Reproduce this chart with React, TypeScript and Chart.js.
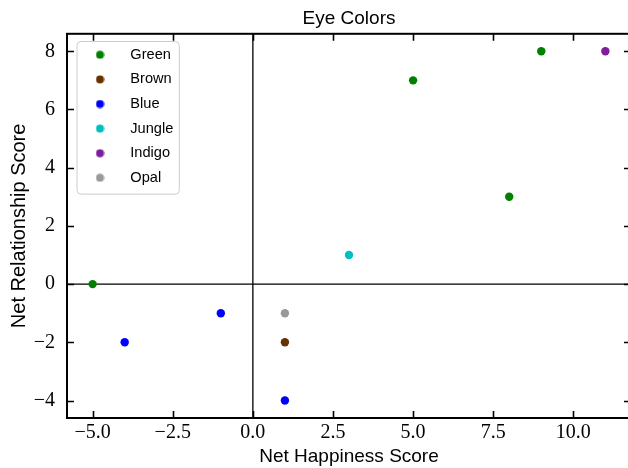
import React, { useEffect, useRef } from "react";
import { Chart, registerables } from "chart.js";

Chart.register(...registerables);

const categories = ["Green", "Brown", "Blue", "Jungle", "Indigo", "Opal"];
const colors = ["#008000", "#663300", "#0000ff", "#00bfbf", "#7e1e9c", "#999999"];
const greenX = [-5, 5, 8, 9];
const greenY = [0, 7, 3, 8];
const brownX = [1];
const brownY = [-2];
const blueX = [-4, -1, 1];
const blueY = [-2, -1, -4];
const jungleX = [3];
const jungleY = [1];
const indigoX = [11];
const indigoY = [8];
const opalX = [1];
const opalY = [-1];
const seriesX = [greenX, brownX, blueX, jungleX, indigoX, opalX];
const seriesY = [greenY, brownY, blueY, jungleY, indigoY, opalY];
const xTicks = [-5, -2.5, 0, 2.5, 5, 7.5, 10];
const yTicks = [-4, -2, 0, 2, 4, 6, 8];
const xRange = [-5.8, 11.8];
const yRange = [-4.6, 8.6];

const SERIF = "'Liberation Serif', 'DejaVu Serif', serif";
const SANS = "'Liberation Sans', 'DejaVu Sans', sans-serif";

const fmtX = (v: number) => v.toFixed(1).replace("-", "\u2212");
const fmtY = (v: number) => String(v).replace("-", "\u2212");

function dotImage(color: string) {
  const c = document.createElement("canvas");
  c.width = 9;
  c.height = 9;
  const g = c.getContext("2d")!;
  g.fillStyle = color;
  g.beginPath();
  g.arc(4.5, 4.5, 4, 0, Math.PI * 2);
  g.fill();
  return c;
}

const decoPlugin = {
  id: "deco",
  beforeDraw(chart: any) {
    const lg = chart.legend;
    const hb = lg && lg.legendHitBoxes;
    if (!hb || !hb.length) return;
    const ctx = chart.ctx;
    let right = 0;
    hb.forEach((h: any) => {
      right = Math.max(right, h.left + h.width);
    });
    const left = hb[0].left;
    const top = hb[0].top - 6;
    const last = hb[hb.length - 1];
    const bottom = last.top + last.height + 9;
    const r = 4;
    const w = right + 6 - left;
    const h = bottom - top;
    ctx.save();
    ctx.beginPath();
    ctx.moveTo(left + r, top);
    ctx.lineTo(left + w - r, top);
    ctx.quadraticCurveTo(left + w, top, left + w, top + r);
    ctx.lineTo(left + w, top + h - r);
    ctx.quadraticCurveTo(left + w, top + h, left + w - r, top + h);
    ctx.lineTo(left + r, top + h);
    ctx.quadraticCurveTo(left, top + h, left, top + h - r);
    ctx.lineTo(left, top + r);
    ctx.quadraticCurveTo(left, top, left + r, top);
    ctx.closePath();
    ctx.fillStyle = "rgba(255,255,255,0.8)";
    ctx.fill();
    ctx.strokeStyle = "#cccccc";
    ctx.lineWidth = 1;
    ctx.stroke();
    ctx.restore();
  },
  beforeDatasetsDraw(chart: any) {
    const { ctx, chartArea: a, scales } = chart;
    const x0 = scales.x.getPixelForValue(0);
    const y0 = scales.y.getPixelForValue(0);
    ctx.save();
    ctx.strokeStyle = "#000";
    ctx.lineWidth = 1.3;
    ctx.beginPath();
    ctx.moveTo(x0, a.top);
    ctx.lineTo(x0, a.bottom);
    ctx.moveTo(a.left, y0);
    ctx.lineTo(a.right, y0);
    ctx.stroke();
    ctx.restore();
  },
  afterDatasetsDraw(chart: any) {
    const { ctx, chartArea: a, scales } = chart;
    ctx.save();
    ctx.strokeStyle = "#000";
    ctx.lineWidth = 1.6;
    const L = 7;
    ctx.beginPath();
    xTicks.forEach((v) => {
      const px = Math.round(scales.x.getPixelForValue(v)) + 0.5;
      ctx.moveTo(px, a.bottom);
      ctx.lineTo(px, a.bottom - L);
      ctx.moveTo(px, a.top);
      ctx.lineTo(px, a.top + L);
    });
    yTicks.forEach((v) => {
      const py = Math.round(scales.y.getPixelForValue(v)) + 0.5;
      ctx.moveTo(a.left, py);
      ctx.lineTo(a.left + L, py);
      ctx.moveTo(a.right, py);
      ctx.lineTo(a.right - L, py);
    });
    ctx.stroke();
    ctx.lineWidth = 2;
    ctx.strokeRect(a.left, a.top, a.right - a.left, a.bottom - a.top);
    ctx.restore();
  },
};

export default function App() {
  const ref = useRef<HTMLCanvasElement | null>(null);

  useEffect(() => {
    document.body.style.margin = "0";
    const canvas = ref.current;
    if (!canvas) return;
    const images = colors.map(dotImage);
    const datasets = categories.map((name, i) => ({
      label: name,
      data: seriesX[i].map((x, j) => ({ x, y: seriesY[i][j] })),
      backgroundColor: colors[i],
      borderColor: colors[i],
      borderWidth: 0,
      pointRadius: 4.2,
      pointHoverRadius: 4.2,
      pointStyle: "circle" as const,
    }));

    const chart = new Chart(canvas, {
      type: "scatter",
      data: { datasets },
      plugins: [decoPlugin],
      options: {
        responsive: false,
        animation: false,
        devicePixelRatio: 1,
        layout: { padding: { left: 0, right: 5, top: 0, bottom: 0 } },
        plugins: {
          tooltip: { enabled: false },
          title: {
            display: true,
            text: "Eye Colors",
            fullSize: false,
            color: "#000",
            font: { family: SANS, size: 19, weight: "normal", lineHeight: 1.2 },
            padding: { top: 7, bottom: 4 },
          },
          legend: {
            display: true,
            position: "chartArea" as any,
            align: "start",
            title: {
              display: true,
              text: " ",
              padding: 0,
              font: { size: 2, lineHeight: "37.5px" },
            },
            labels: {
              usePointStyle: true,
              pointStyleWidth: 46,
              boxHeight: 8,
              padding: 10,
              color: "#000",
              font: { family: SANS, size: 14.6 },
              generateLabels: (ch: any) =>
                ch.data.datasets.map((ds: any, i: number) => ({
                  text: ds.label,
                  fillStyle: colors[i],
                  strokeStyle: colors[i],
                  lineWidth: 0,
                  pointStyle: images[i],
                  hidden: false,
                  datasetIndex: i,
                  fontColor: "#000",
                })),
            },
          },
        },
        scales: {
          x: {
            type: "linear",
            min: xRange[0],
            max: xRange[1],
            grid: { display: false, drawTicks: false },
            border: { display: false },
            afterBuildTicks: (s: any) => {
              s.ticks = xTicks.map((v) => ({ value: v }));
            },
            afterFit: (s: any) => {
              s.height = 50;
            },
            ticks: {
              autoSkip: false,
              maxRotation: 0,
              padding: 3,
              color: "#000",
              font: { family: SERIF, size: 20 },
              callback: (v: any) => fmtX(Number(v)),
            },
            title: {
              display: true,
              text: "Net Happiness Score",
              color: "#000",
              font: { family: SANS, size: 19 },
              padding: { top: 0, bottom: 0 },
            },
          },
          y: {
            type: "linear",
            min: yRange[0],
            max: yRange[1],
            grid: { display: false, drawTicks: false },
            border: { display: false },
            afterBuildTicks: (s: any) => {
              s.ticks = yTicks.map((v) => ({ value: v }));
            },
            afterFit: (s: any) => {
              s.width = 67;
            },
            ticks: {
              autoSkip: false,
              padding: 12,
              color: "#000",
              font: { family: SERIF, size: 20 },
              callback: (v: any) => fmtY(Number(v)),
            },
            title: {
              display: true,
              text: "Net Relationship Score",
              color: "#000",
              font: { family: SANS, size: 20 },
              padding: { top: 7, bottom: 0 },
            },
          },
        },
      },
    });
    return () => chart.destroy();
  }, []);

  return (
    <div style={{ width: 628, height: 468, overflow: "hidden", position: "relative" }}>
      <canvas ref={ref} width={636} height={468} style={{ display: "block" }} />
    </div>
  );
}
